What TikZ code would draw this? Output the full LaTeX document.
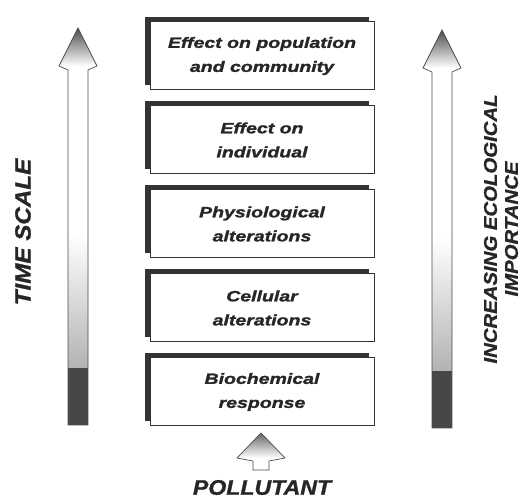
\documentclass[tikz,border=0pt]{standalone}
\usepackage{fontspec}
\setmainfont{Liberation Sans}
\newfontfamily\widefont[FakeStretch=1.3, FakeBold=1.5]{Liberation Sans}
\newfontfamily\capsfont[FakeStretch=1.1, FakeBold=1.2]{Liberation Sans}
\usetikzlibrary{positioning,shadows}

\begin{document}
\begin{tikzpicture}[x=1pt, y=1pt,
  level/.style={draw=black!80, line width=1pt, fill=white,
    minimum width=224pt, minimum height=68pt, align=center,
    text=black!85, font=\widefont\bfseries\itshape\fontsize{15}{24}\selectfont,
    drop shadow={opacity=1, fill=black!80, shadow xshift=-5pt, shadow yshift=5pt}},
  bigcaps/.style={text=black!85, font=\capsfont\bfseries\itshape\fontsize{#1}{21}\selectfont},
  outline/.style={draw=black!70, line width=0.7pt}]
  \useasboundingbox (0,0) rectangle (521,500);

  % the five levels, bottom one first hit by the pollutant
  \node[level] (popu) at (262,444) {Effect on population\\and community};
  \node[level, below=15pt of popu] (indiv) {Effect on\\individual};
  \node[level, below=15pt of indiv] (physio) {Physiological\\alterations};
  \node[level, below=15pt of physio] (cell) {Cellular\\alterations};
  \node[level, below=15pt of cell] (biochem) {Biochemical\\response};

  % side arrows: light shaft, dark foot
  \foreach \ax/\bot/\tip in {78/75/472, 442/72/470} {
    \fill[white] (\ax-10,\bot) -- (\ax-10,\tip-42) -- (\ax-19,\tip-38) -- (\ax,\tip)
      -- (\ax+19,\tip-38) -- (\ax+10,\tip-42) -- (\ax+10,\bot) -- cycle;
    \fill[black!72] (\ax-10,\bot) rectangle (\ax+10,\bot+57);
    \shade[top color=white, bottom color=black!30] (\ax-10,\bot+57) rectangle (\ax+10,\bot+190);
    \shade[top color=black!70, bottom color=white] (\ax-19,\tip-38) -- (\ax,\tip) -- (\ax+19,\tip-38) -- cycle;
    \draw[outline] (\ax-10,\bot) -- (\ax-10,\tip-42) -- (\ax-19,\tip-38) -- (\ax,\tip)
      -- (\ax+19,\tip-38) -- (\ax+10,\tip-42) -- (\ax+10,\bot) -- cycle;
  }

  % pollutant arrow
  \fill[white] (253,30) -- (253,39) -- (237,42) -- (261,67) -- (285,42) -- (269,39) -- (269,30) -- cycle;
  \shade[top color=black!60, bottom color=white] (237,42) -- (261,67) -- (285,42) -- cycle;
  \draw[outline] (253,30) -- (253,39) -- (237,42) -- (261,67) -- (285,42) -- (269,39) -- (269,30) -- cycle;

  \node[bigcaps=21] (pollut) at (262,12.5) {POLLUTANT};
  \node[bigcaps=22, rotate=90] (time) at (23,268) {TIME SCALE};
  \node[bigcaps=18.5, rotate=90, align=center] (ecol) at (501,271) {INCREASING ECOLOGICAL\\IMPORTANCE};
\end{tikzpicture}
\end{document}
